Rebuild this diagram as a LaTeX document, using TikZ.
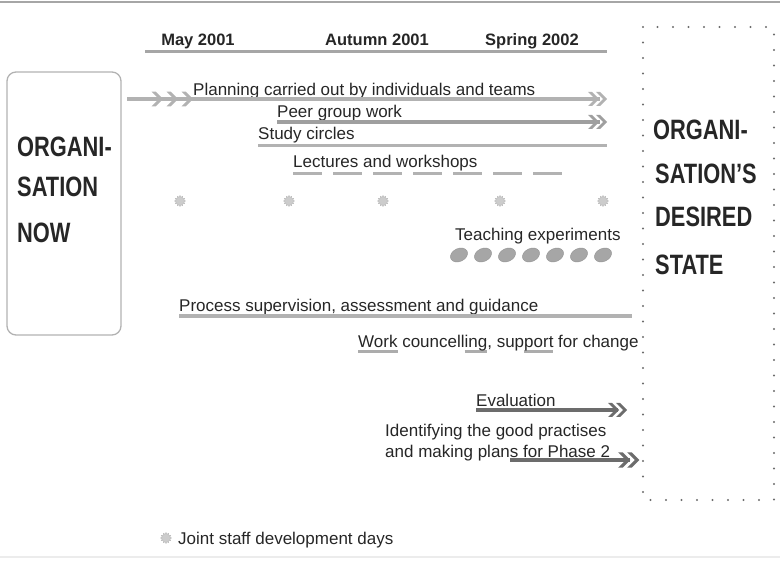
\documentclass[tikz,border=0pt]{standalone}
\usepackage{fontspec}
\setmainfont{Liberation Sans}
\usetikzlibrary{shapes.geometric}
\newlength\gulen
\newcommand\gul[1]{\settowidth{\gulen}{#1}\rlap{\textcolor{gray!65}{\rule[-5pt]{\gulen}{2.6pt}}}#1}
\newcommand\hand[1]{\scalebox{0.78}[1]{#1}}
\tikzset{
 lbl/.style={anchor=base west, inner sep=0, font=\fontsize{17}{20}\selectfont, text=black!85},
 hdr/.style={anchor=base, inner sep=0, font=\fontsize{16.5}{19}\selectfont\bfseries, text=black!85},
 big/.style={anchor=base west, inner sep=0, font=\fontsize{28}{30}\selectfont\bfseries, text=black!85},
 bar/.style={line width=4pt, draw=gray!60},
 thinbar/.style={line width=3pt, draw=gray!60},
 darkbar/.style={line width=4pt, draw=gray!85!black},
 chev/.pic={\fill[pic actions] (-8,-7) -- (-4,-7) -- (3,0) -- (-4,7) -- (-8,7) -- (-1,0) -- cycle;},
 jsd/.style={star, star points=12, star point ratio=1.4, minimum size=11pt, inner sep=0, fill=gray!40, draw=gray!55, line width=0.4pt},
 teach/.style={ellipse, minimum width=18pt, minimum height=13pt, inner sep=0, fill=gray!70, draw=gray!85, rotate=25},
}
\begin{document}
\begin{tikzpicture}[x=1pt,y=-1pt]
\useasboundingbox (0,0) rectangle (780,561);
% frame lines
\coordinate (tl) at (0,2); \coordinate (tr) at (780,2);
\coordinate (bl) at (0,557); \coordinate (br) at (780,557);
\draw[gray!70, line width=2pt] (tl) -- (tr);
\draw[gray!15, line width=2pt] (bl) -- (br);

% headers
\node[hdr] (may) at (198,46) {May 2001};
\node[hdr] (aut) at (377,46) {Autumn 2001};
\node[hdr] (spr) at (532,46) {Spring 2002};
\coordinate (hA) at (145,52); \coordinate (hB) at (607,52);
\draw[thinbar, draw=gray!70] (hA) -- (hB);

% left box
\node[draw=gray!60, line width=1.3pt, rounded corners=9pt, minimum width=114pt, minimum height=263pt, inner sep=0] (now) at (64,203.5) {};
\node[big] (n1) at (17,157) {\hand{ORGANI-}};
\node[big] (n2) at (17,197) {\hand{SATION}};
\node[big] (n3) at (17,243) {\hand{NOW}};

% right dotted box
\coordinate (dA) at (643,27); \coordinate (dB) at (774,500);
\draw[gray!85!black, line width=2.2pt, line cap=round, dash pattern=on 0pt off 15.5pt] (dA) rectangle (dB);
\node[big] (d1) at (653,140) {\hand{ORGANI-}};
\node[big] (d2) at (655,184) {\hand{SATION'S}};
\node[big] (d3) at (655,227) {\hand{DESIRED}};
\node[big] (d4) at (655,275) {\hand{STATE}};

% planning
\node[lbl] (plan) at (193,96) {Planning carried out by individuals and teams};
\coordinate (pA) at (127,99); \coordinate (pB) at (600,99);
\draw[bar] (pA) -- (pB);
\foreach \x in {160,175,190} \pic[gray!60, scale=1.05] at (\x,99) {chev};
\foreach \x in {596,604} \pic[gray!60] at (\x,99) {chev};

% peer group
\node[lbl] (peer) at (277,118) {Peer group work};
\coordinate (gA) at (277,122); \coordinate (gB) at (600,122);
\draw[bar, draw=gray!75] (gA) -- (gB);
\foreach \x in {596,604} \pic[gray!75] at (\x,122) {chev};

% study circles
\node[lbl] (study) at (258,140) {Study circles};
\coordinate (sA) at (258,146); \coordinate (sB) at (607,146);
\draw[thinbar] (sA) -- (sB);

% lectures
\node[lbl] (lect) at (293,168) {Lectures and workshops};
\coordinate (lA) at (293,174); \coordinate (lB) at (566,174);
\draw[thinbar, dash pattern=on 29pt off 11pt] (lA) -- (lB);

% joint staff development days
\foreach \x/\n in {180/j1,289/j2,383/j3,500/j4,603/j5} \node[jsd] (\n) at (\x,201) {};

% teaching experiments
\node[lbl] (teachT) at (455,241) {Teaching experiments};
\foreach \x/\n in {459/t1,483/t2,507/t3,531/t4,555/t5,579/t6,603/t7} \node[teach] (\n) at (\x,255) {};

% process supervision
\node[lbl] (proc) at (179,312) {Process supervision, assessment and guidance};
\coordinate (rA) at (179,316); \coordinate (rB) at (632,316);
\draw[bar] (rA) -- (rB);

% work councelling
\node[lbl] (work) at (358,348) {\gul{Work} councell\gul{ing}, sup\gul{port} for change};

% evaluation
\node[lbl] (eval) at (476,407) {Evaluation};
\coordinate (eA) at (476,410); \coordinate (eB) at (618,410);
\draw[darkbar] (eA) -- (eB);
\foreach \x in {616,624} \pic[gray!85!black] at (\x,410) {chev};

% identifying
\node[lbl] (id1) at (385,437) {Identifying the good practises};
\node[lbl] (id2) at (385,458) {and making plans for Phase 2};
\coordinate (iA) at (510,460); \coordinate (iB) at (630,460);
\draw[darkbar] (iA) -- (iB);
\foreach \x in {627,636} \pic[gray!85!black, scale=1.1] at (\x,460) {chev};

% legend
\node[jsd] (leg) at (166,538) {};
\node[lbl] (legT) at (178,544) {Joint staff development days};
\end{tikzpicture}
\end{document}
